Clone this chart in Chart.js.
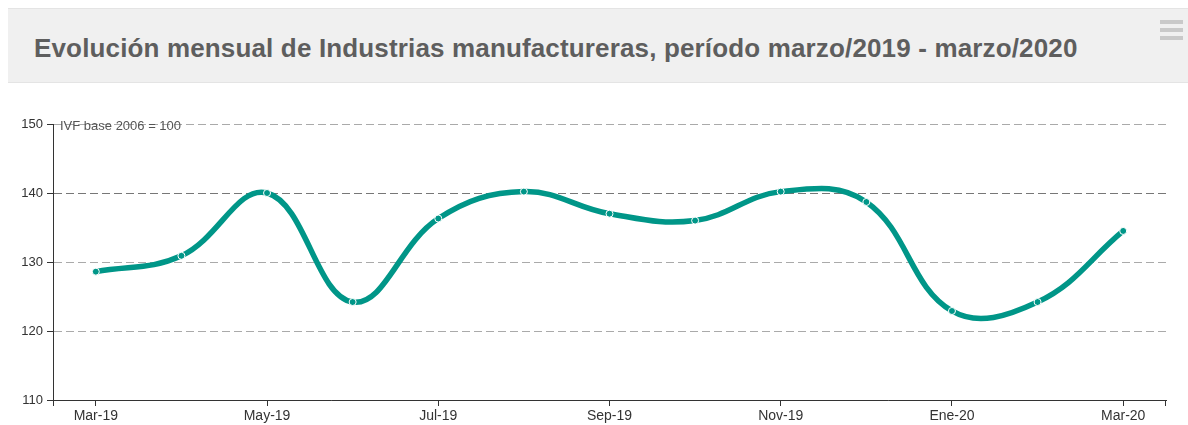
<!DOCTYPE html>
<html>
<head>
<meta charset="utf-8">
<script src="https://cdn.jsdelivr.net/npm/chart.js@4.4.0/dist/chart.umd.min.js"></script>
<style>
  html, body { margin: 0; padding: 0; background: #fff; width: 1188px; height: 425px; overflow: hidden; }
  .header {
    position: absolute; left: 8px; top: 8px; width: 1180px; height: 75px;
    background: #f0f0f0; border-top: 1px solid #e4e4e4; border-bottom: 1px solid #e4e4e4;
    box-sizing: border-box;
  }
  .header h1 {
    position: absolute; left: 26px; top: 24px; margin: 0; line-height: 26px; letter-spacing: 0.15px;
    font: bold 26px "Liberation Sans", Arial, sans-serif; color: #5e5e5e; white-space: nowrap;
  }
  .menu { position: absolute; left: 1152px; top: 11px; width: 23px; }
  .menu span { display: block; height: 4px; background: #c9c9c9; margin-bottom: 4px; }
  .wrap { position: absolute; left: 0; top: 95px; width: 1188px; height: 330px; }
</style>
</head>
<body>
<div class="header">
  <h1>Evolución mensual de Industrias manufactureras, período marzo/2019 - marzo/2020</h1>
  <div class="menu"><span></span><span></span><span></span></div>
</div>
<div class="wrap"><canvas id="chart"></canvas></div>
<script>
// data
const months = ['Mar-19', 'Abr-19', 'May-19', 'Jun-19', 'Jul-19', 'Ago-19', 'Sep-19',
                'Oct-19', 'Nov-19', 'Dic-19', 'Ene-20', 'Feb-20', 'Mar-20'];
const ivfValues = [128.6, 130.9, 140.0, 124.2, 136.3, 140.2, 137.0,
                   136.0, 140.2, 138.7, 122.9, 124.2, 134.5];
const yTicks = [110, 120, 130, 140, 150];
const unitNote = 'IVF base 2006 = 100';

const FONT = '"Liberation Sans", Arial, sans-serif';

// axis end ticks + unit note
const extras = {
    id: 'extras',
    afterDraw(chart) {
        const { ctx, chartArea } = chart;
        ctx.save();
        ctx.strokeStyle = '#333';
        ctx.lineWidth = 1;
        ctx.beginPath();
        ctx.moveTo(chartArea.left + 0.5, chartArea.bottom);
        ctx.lineTo(chartArea.left + 0.5, chartArea.bottom + 6);
        ctx.moveTo(chartArea.right - 0.5, chartArea.bottom);
        ctx.lineTo(chartArea.right - 0.5, chartArea.bottom + 6);
        ctx.stroke();
        ctx.fillStyle = '#555';
        ctx.font = '13px ' + FONT;
        ctx.textBaseline = 'middle';
        ctx.fillText(unitNote, chartArea.left + 7, chartArea.top + 2);
        ctx.restore();
    }
};

new Chart(document.getElementById('chart').getContext('2d'), {
    type: 'line',
    data: {
        labels: months,
        datasets: [{
            label: 'IVF',
            data: ivfValues,
            borderColor: '#009688',
            borderWidth: 5.5,
            tension: 0.4,
            pointRadius: 3.5,
            pointBackgroundColor: '#009688',
            pointBorderColor: '#fff',
            pointBorderWidth: 1,
            fill: false
        }]
    },
    options: {
        responsive: true,
        maintainAspectRatio: false,
        animation: false,
        layout: { padding: { top: 29, right: 22, left: 0, bottom: 0 } },
        plugins: { legend: { display: false }, tooltip: { enabled: false } },
        scales: {
            x: {
                offset: true,
                afterFit(scale) { scale.height = 25; },
                border: { color: '#333', width: 1 },
                grid: {
                    offset: false,
                    drawOnChartArea: false,
                    tickLength: 6,
                    color: (c) => (c.index % 2 ? 'rgba(0,0,0,0)' : '#333')
                },
                ticks: {
                    autoSkip: false,
                    maxRotation: 0,
                    padding: 2,
                    color: '#333',
                    font: { family: FONT, size: 14 },
                    callback: function (v, i) { return i % 2 ? '' : this.getLabelForValue(v); }
                }
            },
            y: {
                min: yTicks[0],
                max: yTicks[yTicks.length - 1],
                afterFit(scale) { scale.width = 53; },
                afterBuildTicks(scale) { scale.ticks = yTicks.map(v => ({ value: v })); },
                border: { color: '#333', width: 1, dash: [8, 4] },
                grid: {
                    color: (c) => (c.tick && c.tick.value === 140 ? '#777' : '#aaa'),
                    tickLength: 6,
                    tickColor: '#333',
                    tickBorderDash: []
                },
                ticks: {
                    padding: 4,
                    color: '#333',
                    font: { family: FONT, size: 13 }
                }
            }
        }
    },
    plugins: [extras]
});
</script>
</body>
</html>
